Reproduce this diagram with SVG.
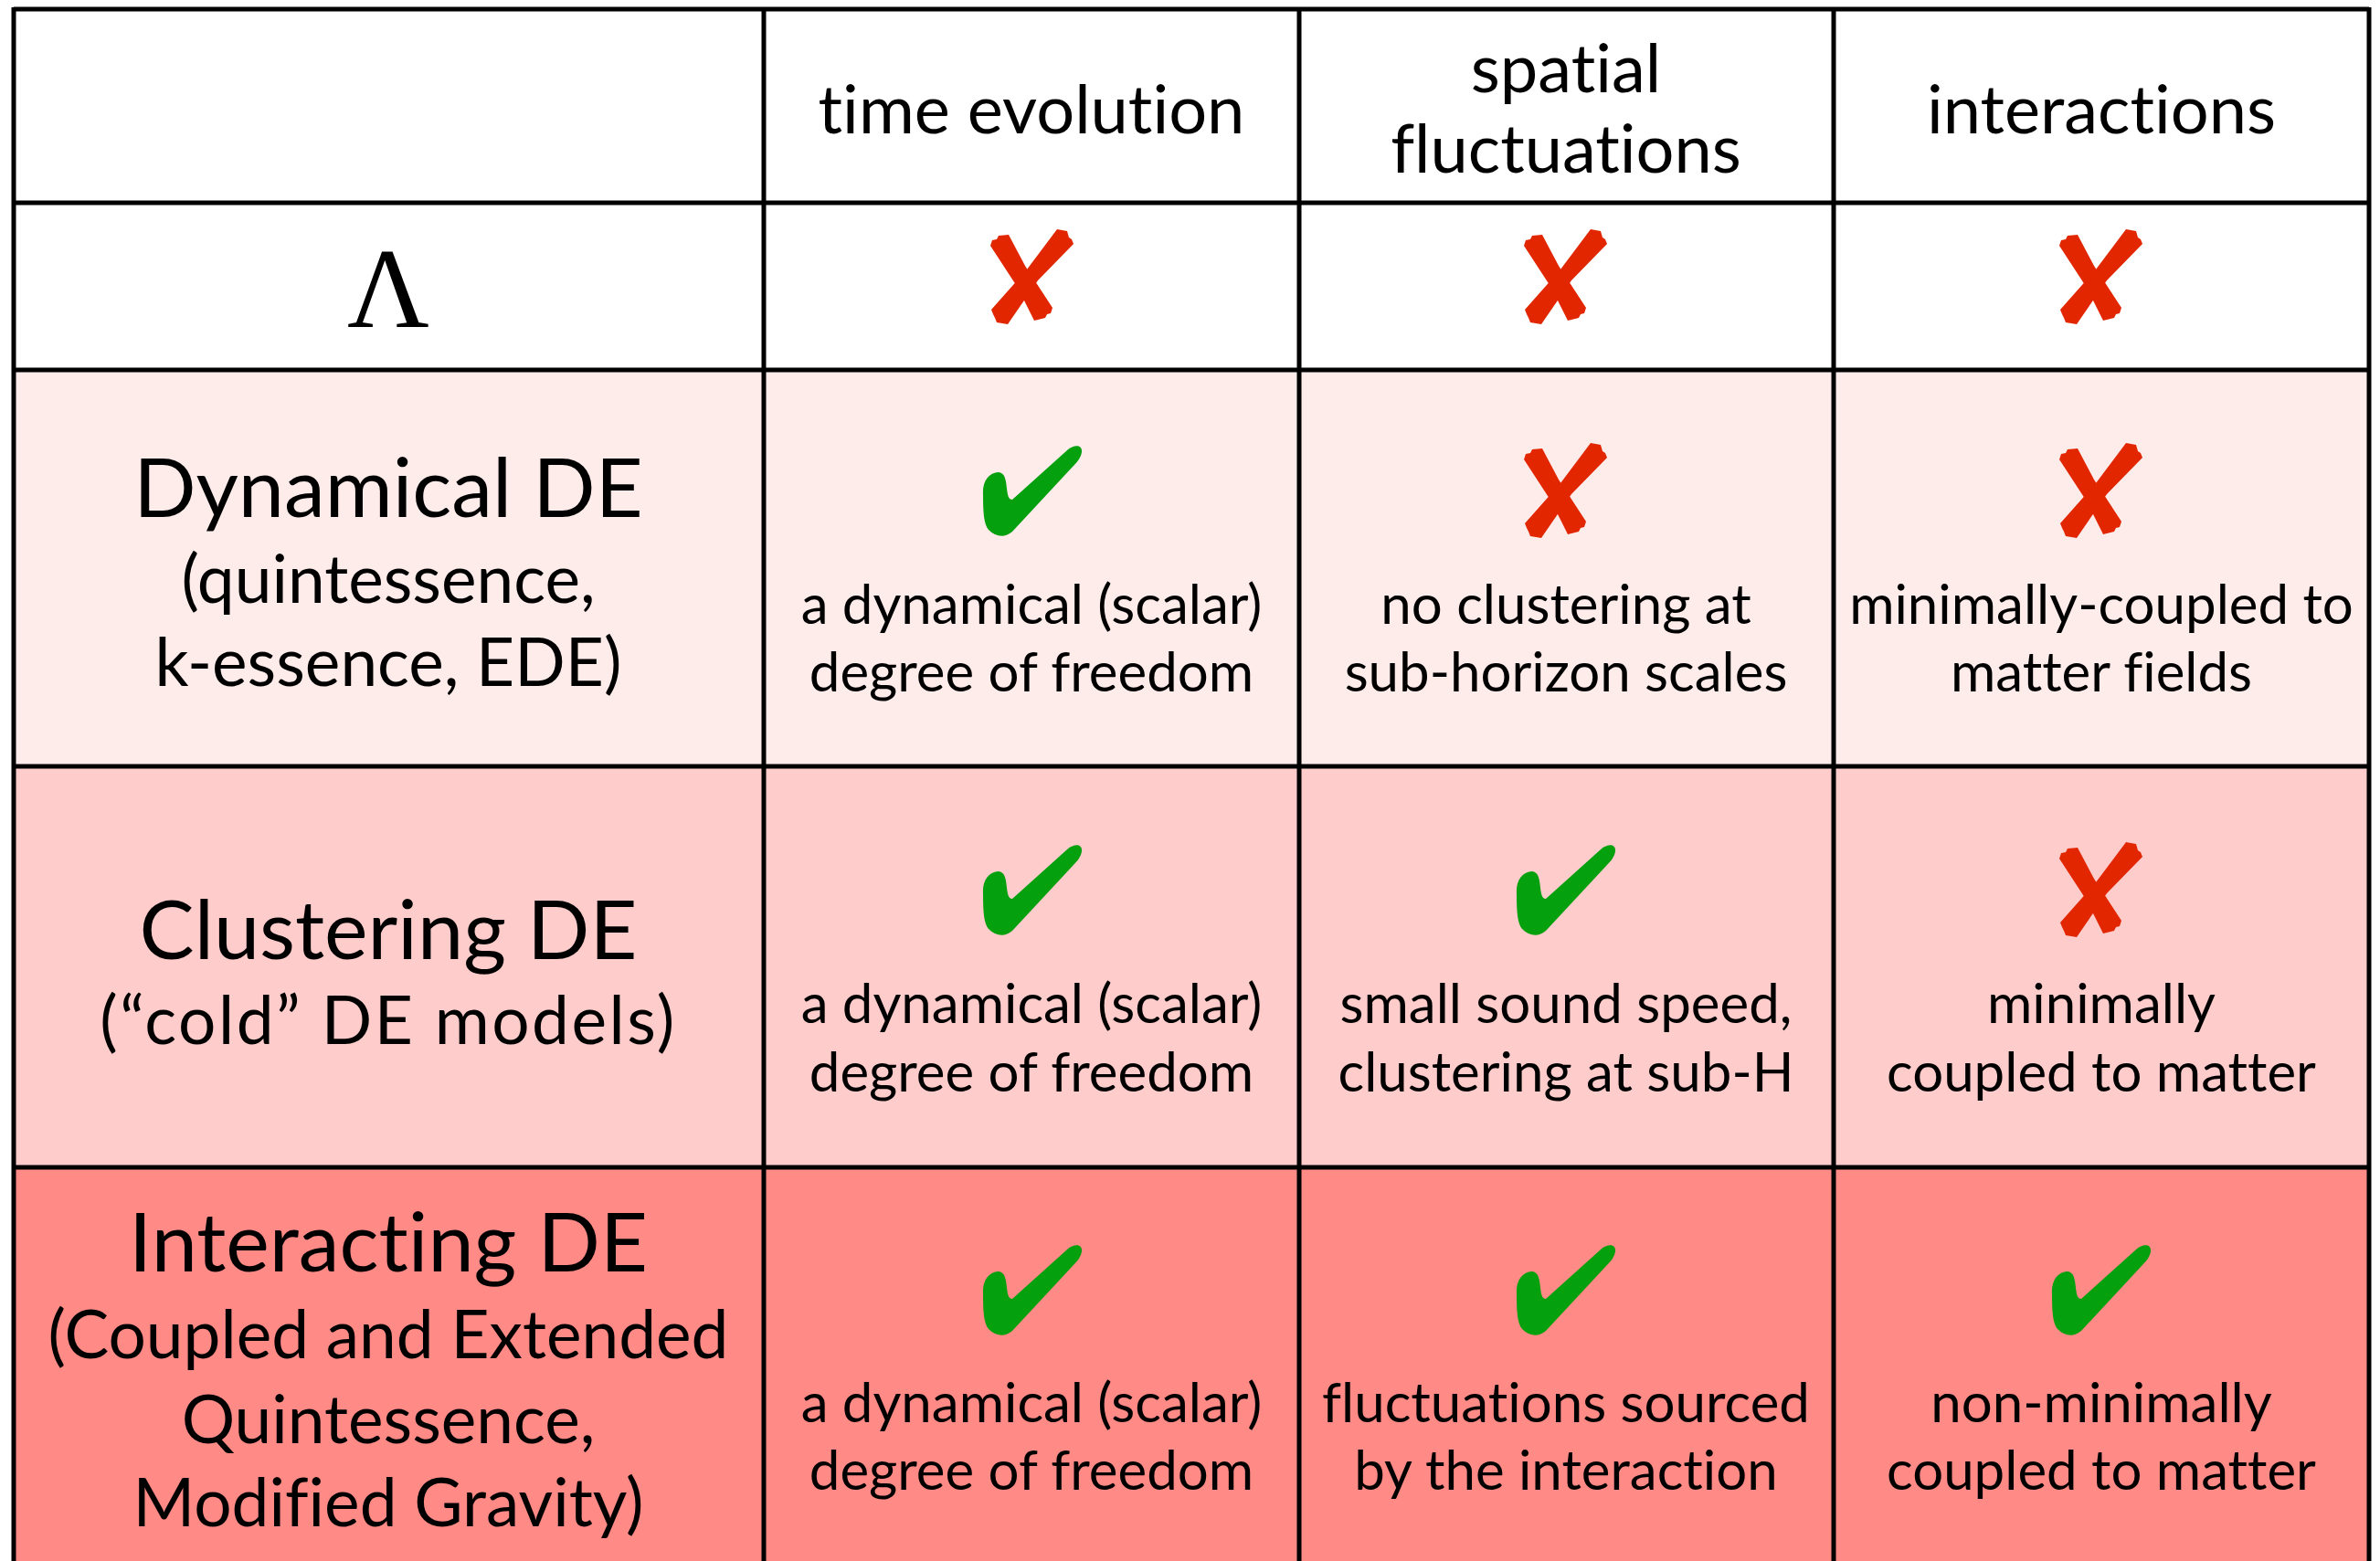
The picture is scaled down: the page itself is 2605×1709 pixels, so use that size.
<svg xmlns="http://www.w3.org/2000/svg" width="2605" height="1709" viewBox="0 0 2605 1709">
<style>
text{font-family:Lato,"Open Sans","DejaVu Sans",sans-serif;fill:#000;text-anchor:middle;font-variant-ligatures:none;font-feature-settings:"liga" 0,"clig" 0}
.h{font-size:74px}
.t{font-size:90px}
.s{font-size:73px}
.b{font-size:60px}
.lam{font-family:"Liberation Serif","Times New Roman",serif;font-size:124px}
.grid{stroke:#000;stroke-width:5;fill:none}
.x{fill:#E22600}
.ck{fill:#04A00E}
</style>
<defs>
<g id="cross">
<path d="M-46,-34 L-44,-40 L-39,-41 L-37,-45 L-26,-46 L-8,-12 L22,34 L20,40 L16,41 L14,45 L2,48 L-16,12 Z"/>
<path d="M45,-36 L43,-41 L40,-43 L38,-50 L27,-52 L-6,-8 L-45,36 L-43,41 L-41,45 L-39,50 L-27,52 L6,4 Z"/>
</g>
<path id="check" d="M-54,5 C-55,-10 -48,-19 -38,-20 C-30,-20 -29,-12 -28,-2 C-27,6 -26,10 -22,10 L38,-44 C46,-51 55,-50 54,-42 C53,-36 50,-32 44,-26 L-22,45 C-30,52 -40,51 -48,43 C-53,37 -54,25 -54,5 Z"/>
</defs>
<rect x="0" y="0" width="2605" height="1709" fill="#fff"/>
<g id="rows">
<rect x="15" y="405" width="2578" height="434" fill="#FEECEA"/>
<rect x="15" y="839" width="2578" height="439" fill="#FFCCCC"/>
<rect x="15" y="1278" width="2578" height="431" fill="#FF8A86"/>
</g>
<g id="connectors" class="grid">
<line x1="15" y1="10" x2="2593" y2="10"/>
<line x1="15" y1="222" x2="2593" y2="222"/>
<line x1="15" y1="405" x2="2593" y2="405"/>
<line x1="15" y1="839" x2="2593" y2="839"/>
<line x1="15" y1="1278" x2="2593" y2="1278"/>
<line x1="15" y1="8" x2="15" y2="1709"/>
<line x1="836" y1="8" x2="836" y2="1709"/>
<line x1="1422" y1="8" x2="1422" y2="1709"/>
<line x1="2007" y1="8" x2="2007" y2="1709"/>
<line x1="2593" y1="8" x2="2593" y2="1709"/>
</g>
<g id="header">
<text class="h" x="1129" y="146">time evolution</text>
<text class="h" x="1714" y="101">spatial</text>
<text class="h" x="1714" y="189">fluctuations</text>
<text class="h" x="2300" y="146">interactions</text>
</g>
<g id="row-lambda">
<text class="lam" x="425" y="358">Λ</text>
<use href="#cross" class="x" x="1130" y="303"/>
<use href="#cross" class="x" x="1714" y="303"/>
<use href="#cross" class="x" x="2300" y="303"/>
</g>
<g id="row-dynamical">
<text class="t" x="425" y="566">Dynamical DE</text>
<text class="s" x="425" y="660">(quintessence,</text>
<text class="s" x="425" y="751">k-essence, EDE)</text>
<use href="#check" class="ck" x="1130" y="537"/>
<use href="#cross" class="x" x="1714" y="537"/>
<use href="#cross" class="x" x="2300" y="537"/>
<text class="b" x="1129" y="683">a dynamical (scalar)</text>
<text class="b" x="1129" y="757">degree of freedom</text>
<text class="b" x="1714" y="683">no clustering at</text>
<text class="b" x="1714" y="757">sub-horizon scales</text>
<text class="b" x="2300" y="683">minimally-coupled to</text>
<text class="b" x="2300" y="757">matter fields</text>
</g>
<g id="row-clustering">
<text class="t" x="425" y="1050">Clustering DE</text>
<text class="s" x="425" y="1143" letter-spacing="2.5">(“cold” DE models)</text>
<use href="#check" class="ck" x="1130" y="974"/>
<use href="#check" class="ck" x="1714" y="974"/>
<use href="#cross" class="x" x="2300" y="974"/>
<text class="b" x="1129" y="1120">a dynamical (scalar)</text>
<text class="b" x="1129" y="1195">degree of freedom</text>
<text class="b" x="1714" y="1120">small sound speed,</text>
<text class="b" x="1714" y="1195">clustering at sub-H</text>
<text class="b" x="2300" y="1120">minimally</text>
<text class="b" x="2300" y="1195">coupled to matter</text>
</g>
<g id="row-interacting">
<text class="t" x="425" y="1392">Interacting DE</text>
<text class="s" x="425" y="1487">(Coupled and Extended</text>
<text class="s" x="425" y="1580">Quintessence,</text>
<text class="s" x="425" y="1671">Modified Gravity)</text>
<use href="#check" class="ck" x="1130" y="1412"/>
<use href="#check" class="ck" x="1714" y="1412"/>
<use href="#check" class="ck" x="2300" y="1412"/>
<text class="b" x="1129" y="1557">a dynamical (scalar)</text>
<text class="b" x="1129" y="1631">degree of freedom</text>
<text class="b" x="1714" y="1557">fluctuations sourced</text>
<text class="b" x="1714" y="1631">by the interaction</text>
<text class="b" x="2300" y="1557">non-minimally</text>
<text class="b" x="2300" y="1631">coupled to matter</text>
</g>
</svg>
